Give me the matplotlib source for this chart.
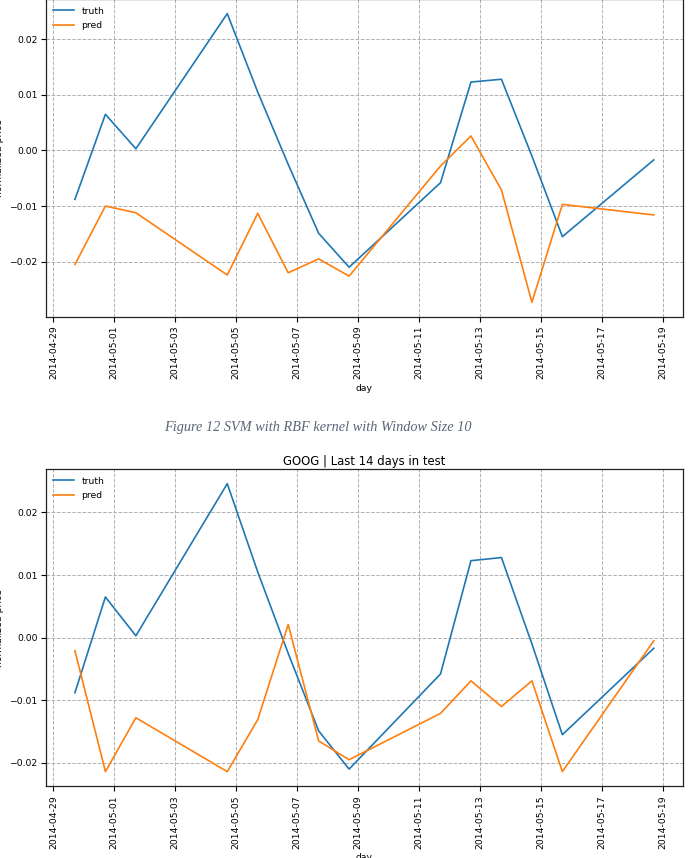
import numpy as np
import matplotlib
matplotlib.use("Agg")
import matplotlib.pyplot as plt
import matplotlib.dates as mdates
from matplotlib.ticker import MultipleLocator

# ---- data ----
days = ["2014-04-29T17:00", "2014-04-30T17:00", "2014-05-01T17:00", "2014-05-04T17:00",
        "2014-05-05T17:00", "2014-05-06T17:00", "2014-05-07T17:00", "2014-05-08T17:00",
        "2014-05-11T17:00", "2014-05-12T17:00", "2014-05-13T17:00", "2014-05-14T17:00",
        "2014-05-15T17:00", "2014-05-18T17:00"]

truth = [-0.0088, 0.0065, 0.0003, 0.0246, 0.0105, -0.0025, -0.0149, -0.0210,
         -0.0058, 0.0123, 0.0128, -0.0010, -0.0155, -0.0017]

pred_top = [-0.0205, -0.0100, -0.0112, -0.0224, -0.0113, -0.0220, -0.0195, -0.0226,
            -0.0028, 0.0026, -0.0071, -0.0273, -0.0097, -0.0116]

pred_bottom = [-0.0021, -0.0214, -0.0128, -0.0214, -0.0131, 0.0021, -0.0165, -0.0195,
               -0.0121, -0.0069, -0.0110, -0.0069, -0.0214, -0.0005]

tick_days = ["2014-04-29", "2014-05-01", "2014-05-03", "2014-05-05", "2014-05-07",
             "2014-05-09", "2014-05-11", "2014-05-13", "2014-05-15", "2014-05-17",
             "2014-05-19"]

title_bottom = "GOOG | Last 14 days in test"
caption = "Figure 12 SVM with RBF kernel with Window Size 10"

# ---- figure ----
W, H = 693, 858
fig = plt.figure(figsize=(W / 100, H / 100), dpi=100)
plt.rcParams['font.family'] = ['DejaVu Sans']

x = np.array(days, dtype="datetime64[m]").astype("datetime64[ms]").astype(object)
ticks = np.array(tick_days, dtype="datetime64[D]").astype(object)

FS = 6.7

def make_axes(rect, pred, title=None):
    ax = fig.add_axes(rect)
    ax.plot(x, truth, color="#1f77b4", lw=1.2, label="truth")
    ax.plot(x, pred, color="#ff7f0e", lw=1.2, label="pred")
    ax.set_xticks(ticks)
    ax.xaxis.set_major_formatter(mdates.DateFormatter("%Y-%m-%d"))
    ax.yaxis.set_major_locator(MultipleLocator(0.01))
    ax.tick_params(axis="x", labelrotation=90, labelsize=FS, length=3.5, width=0.8, pad=3)
    ax.tick_params(axis="y", labelsize=FS, length=3.5, width=0.8, pad=2.5)
    ax.grid(True, linestyle="--", color="#b0b0b0", linewidth=0.7)
    for s in ax.spines.values():
        s.set_linewidth(0.9)
        s.set_color("#222222")
    ax.set_xlabel("day", fontsize=FS, labelpad=3)
    ax.set_ylabel("normalized price", fontsize=FS)
    ax.yaxis.set_label_coords(-0.0655, 0.5)
    ax.legend(loc="upper left", frameon=False, fontsize=FS, handlelength=2.2,
              borderaxespad=0.4, labelspacing=0.6)
    if title:
        ax.set_title(title, fontsize=8.4, pad=3)
    return ax

left = 46 / W
width = 636.7 / W
ax1 = make_axes([left, 1 - 316.7 / H, width, 317.5 / H], pred_top)
ax2 = make_axes([left, 1 - 786 / H, width, 316.7 / H], pred_bottom, title_bottom)

fig.text(317.7 / W, 1 - 427.7 / H, caption, ha="center", va="center",
         fontsize=10.3, style="italic", family=["Liberation Serif", "DejaVu Serif"],
         color="#5a6677")

fig.savefig("out.png", dpi=100)
